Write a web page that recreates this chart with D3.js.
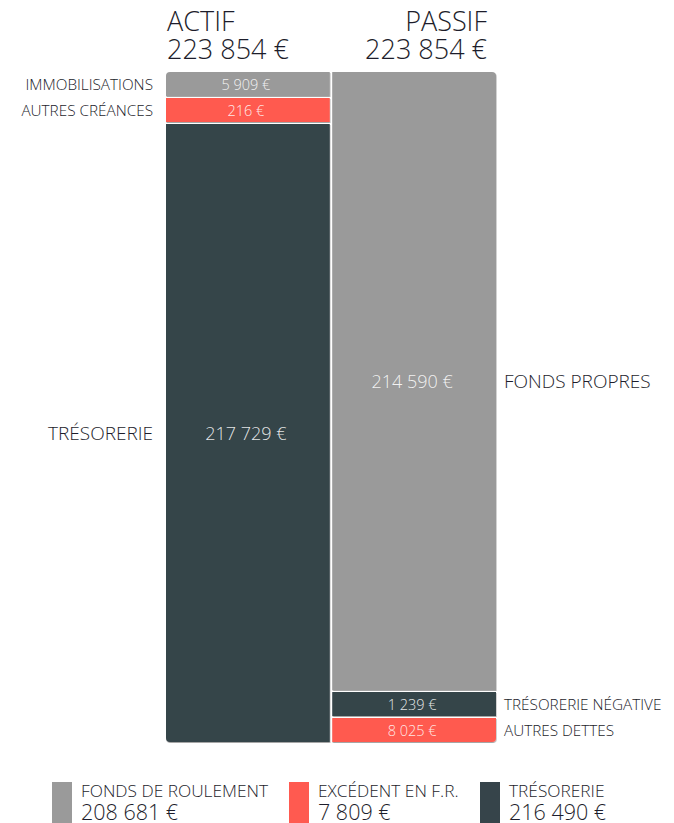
<!DOCTYPE html>
<html><head><meta charset="utf-8">
<script src="https://cdn.jsdelivr.net/npm/d3@7"></script>
<style>
html,body{margin:0;padding:0;background:#fff;}
svg{display:block;font-family:"Open Sans",sans-serif;font-weight:300;}
</style></head>
<body>
<svg id="c" width="674" height="823"></svg>
<script>
const columns = ["ACTIF", "PASSIF"];
const actifLabels = ["IMMOBILISATIONS", "AUTRES CRÉANCES", "TRÉSORERIE"];
const actifValues = [5909, 216, 217729];
const passifLabels = ["FONDS PROPRES", "TRÉSORERIE NÉGATIVE", "AUTRES DETTES"];
const passifValues = [214590, 1239, 8025];
const legendLabels = ["FONDS DE ROULEMENT", "EXCÉDENT EN F.R.", "TRÉSORERIE"];
const legendValues = [208681, 7809, 216490];

const colors = {gray:"#9a9a9a", red:"#ff5a50", dark:"#36444a"};
const actifColors = [colors.gray, colors.red, colors.dark];
const passifColors = [colors.gray, colors.dark, colors.red];
const legendColors = [colors.gray, colors.red, colors.dark];

const loc = d3.formatLocale({decimal:",", thousands:" ", grouping:[3], currency:[""," €"]});
const fmt = v => loc.format(",.0f")(v) + " €";

const svg = d3.select("#c");
const chartTop = 72, chartBottom = 742, gap = 2, minH = 24;
const x = d3.scaleBand().domain(columns).range([166, 496]).paddingInner(0.015);

function layout(values) {
  const total = d3.sum(values);
  const avail = chartBottom - chartTop - gap * (values.length - 1);
  const naive = d3.scaleLinear().domain([0, total]).range([0, avail]);
  const small = values.map(v => naive(v) < minH);
  const bigSum = d3.sum(values.filter((v, i) => !small[i]));
  const nSmall = small.filter(Boolean).length;
  const y = d3.scaleLinear().domain([0, bigSum]).range([0, avail - nSmall * minH]);
  let cur = chartTop;
  return values.map((v, i) => {
    const h = small[i] ? minH : y(v);
    const s = {y0: cur, y1: cur + h, v, small: small[i]};
    cur += h + gap;
    return s;
  });
}

const defs = svg.append("defs");
defs.append("clipPath").attr("id", "clip").append("rect")
  .attr("x", x.range()[0]).attr("y", chartTop)
  .attr("width", x.range()[1] - x.range()[0]).attr("height", chartBottom - chartTop).attr("rx", 4);
const f = defs.append("filter").attr("id", "sh").attr("x", "-5%").attr("y", "-5%").attr("width", "110%").attr("height", "110%");
f.append("feDropShadow").attr("dx", 0.5).attr("dy", 1).attr("stdDeviation", 0.6).attr("flood-color", "#000").attr("flood-opacity", 0.35);

const gBars = svg.append("g").attr("filter", "url(#sh)").append("g").attr("clip-path", "url(#clip)");

function drawColumn(col, values, labels, cols, side) {
  const segs = layout(values);
  const bx = x(col), bw = x.bandwidth();
  gBars.selectAll(null).data(segs).join("rect")
    .attr("x", bx).attr("width", bw)
    .attr("y", d => d.y0).attr("height", d => d.y1 - d.y0)
    .attr("fill", (d, i) => cols[i]);
  svg.selectAll(null).data(segs).join("text")
    .attr("x", bx + bw / 2 - 2).attr("y", d => (d.y0 + d.y1) / 2)
    .attr("text-anchor", "middle").attr("dominant-baseline", "central")
    .attr("fill", "rgba(255,255,255,0.88)")
    .attr("font-size", d => d.small ? 14.5 : 18)
    .text(d => fmt(d.v));
  svg.selectAll(null).data(segs).join("text")
    .attr("x", side === "left" ? bx - 13 : bx + bw + 8)
    .attr("y", d => (d.y0 + d.y1) / 2)
    .attr("text-anchor", side === "left" ? "end" : "start")
    .attr("dominant-baseline", "central")
    .attr("fill", "#1d1d2b")
    .attr("font-size", d => d.small ? 15.3 : 19)
    .text((d, i) => labels[i]);
}
drawColumn("ACTIF", actifValues, actifLabels, actifColors, "left");
drawColumn("PASSIF", passifValues, passifLabels, passifColors, "right");

const heads = [
  {col: "ACTIF", total: d3.sum(actifValues), anchor: "start", x: x("ACTIF") + 1},
  {col: "PASSIF", total: d3.sum(passifValues), anchor: "end", x: x("PASSIF") + x.bandwidth() - 9}
];
heads.forEach(h => {
  const t = svg.append("text").attr("text-anchor", h.anchor).attr("fill", "#1d1d2b").attr("font-size", 27);
  t.append("tspan").attr("x", h.x).attr("y", 31).text(h.col);
  t.append("tspan").attr("x", h.x).attr("y", 59).text(fmt(h.total));
});

const legX = [52, 289, 480];
legendLabels.forEach((l, i) => {
  const g = svg.append("g").attr("transform", `translate(${legX[i]},782)`);
  g.append("rect").attr("width", 20).attr("height", 41).attr("fill", legendColors[i]);
  g.append("text").attr("x", 29).attr("y", 14.5).attr("font-size", 17.3).attr("fill", "#1d1d2b").text(l);
  g.append("text").attr("x", 29).attr("y", 37.5).attr("font-size", 21.5).attr("fill", "#1d1d2b").text(fmt(legendValues[i]));
});
</script>
</body></html>
